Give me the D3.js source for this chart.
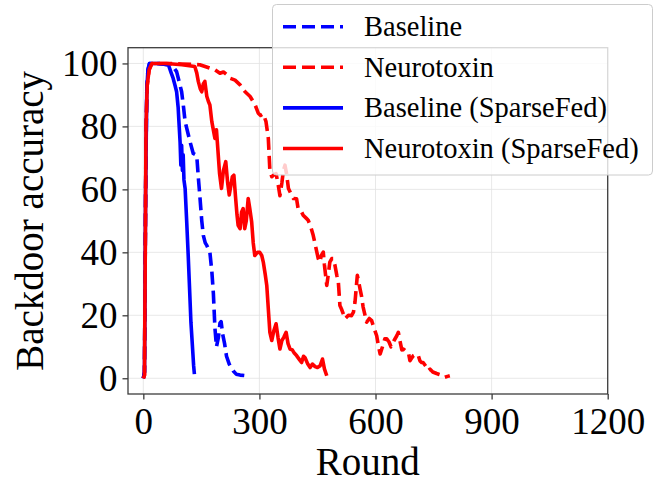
<!DOCTYPE html>
<meta charset="utf-8" />
<style>
  body { margin: 0; background: #fff; }
  text { font-family: "Liberation Serif", "Times New Roman", serif; fill: #000; }
  .grid line { stroke: #e2e2e2; stroke-width: 0.8px; }
  .tick text { font-size: 37px; }
  .frame { fill: none; stroke: #3c3c3c; stroke-width: 1.3px; }
  .curve { fill: none; stroke-width: 3.6px; stroke-linejoin: round; }
</style>
<body>
<script src="https://d3js.org/d3.v7.min.js"></script>
<script>
  // rounds and backdoor accuracy for each run
  var baselineR = [0, 3, 6, 9, 12, 16, 30, 50, 70, 80, 86, 93, 99, 104, 108, 115, 121, 129, 138, 142, 146, 151, 155, 160, 164, 172, 177, 181, 185, 189, 194, 198, 201, 205, 210, 215, 222, 232, 240, 250, 265, 276];
  var baselineV = [0, 2, 60, 92, 98, 100, 100, 99.8, 99.5, 98.5, 97.4, 94, 91, 86, 81.5, 78, 75, 71.4, 70.8, 64, 58, 50, 45.4, 43, 42.2, 40, 34, 27, 16, 10, 13, 17.5, 18, 14, 11, 7, 4.5, 2.4, 1.3, 1, 0.8, 0.5];

  var neuroR = [0, 3, 5, 7, 10, 15, 22, 60, 100, 146, 172, 185, 198, 207, 215, 224, 237, 250, 263, 276, 289, 297, 303, 310, 317, 323, 327, 332, 336, 343, 348, 353, 358, 362, 366, 370, 375, 383, 388, 396, 400, 409, 413, 422, 426, 433, 439, 445, 452, 456, 460, 465, 468, 474, 478, 482, 487, 491, 495, 500, 504, 508, 512, 517, 521, 530, 538, 543, 547, 553, 556, 560, 564, 568, 573, 577, 584, 590, 596, 603, 608, 612, 618, 624, 629, 635, 640, 648, 655, 659, 663, 668, 672, 679, 685, 689, 694, 698, 706, 711, 715, 719, 723, 730, 736, 741, 748, 758, 765, 770, 779, 786, 792];
  var neuroV = [0, 1, 40, 80, 93, 98, 100, 100, 99.8, 99.6, 98.5, 98, 96.9, 97.3, 96.5, 95.3, 94.7, 93.2, 91, 89.5, 86.8, 84.2, 83.5, 84, 81.5, 76.2, 66, 64, 64.5, 65, 61.9, 58, 62, 66, 67.7, 65, 60.3, 58.2, 57.1, 57, 53.9, 52.8, 51.8, 50.7, 50.2, 48, 45.4, 42, 38, 36.9, 39, 40.1, 36, 29.5, 33, 36.9, 38, 38, 36, 32.7, 30.5, 23.1, 22, 20.4, 18.9, 20, 19.9, 21, 24.2, 32.7, 31, 28.4, 26, 22.6, 20, 17.8, 19, 18.3, 16, 13.5, 10, 7.7, 10, 12.5, 12.5, 11.5, 10, 12, 13.5, 14.6, 12, 9, 9.3, 8.5, 8.2, 5.6, 6.5, 7.2, 7.7, 7, 5.5, 5, 5, 3.8, 2.4, 2.9, 2, 1.5, 1.2, 1, 0.3, 0.6, 0.8];

  var baseSparseR = [0, 3, 6, 9, 12, 16, 40, 65, 72, 77, 82, 86, 90, 92, 95, 97, 99, 101, 103, 105, 108, 112, 116, 119, 123, 127, 130, 132];
  var baseSparseV = [0, 2, 60, 92, 98, 100, 100, 99.5, 97, 95.3, 93, 91, 86, 81.5, 75, 67.7, 74, 66, 71, 63, 60.3, 50, 39, 30, 17.8, 10, 4, 1.3];

  var neuroSparseR = [0, 3, 5, 7, 10, 15, 22, 60, 100, 133, 138, 142, 147, 151, 155, 159, 164, 168, 172, 177, 185, 189, 193, 197, 202, 207, 213, 218, 222, 226, 230, 234, 238, 242, 245, 250, 254, 258, 262, 266, 271, 275, 280, 284, 288, 295, 301, 306, 310, 315, 319, 323, 327, 332, 337, 343, 348, 353, 358, 363, 369, 374, 379, 385, 390, 396, 403, 409, 414, 418, 425, 431, 437, 444, 450, 457, 463, 468, 474];
  var neuroSparseV = [0, 1, 40, 80, 93, 98, 100, 100, 99.6, 99, 97, 94.3, 92, 91, 93.5, 94.3, 89.6, 88, 86.8, 81.5, 76.2, 78.9, 72, 65, 60.3, 66, 68.8, 62, 58.2, 61, 64, 64.5, 58, 52, 48.6, 47.5, 52.8, 53.9, 47.5, 50, 57.1, 54, 49.6, 43, 39, 40, 40, 39, 36.9, 33, 29.5, 22, 14.6, 12, 15, 17.3, 13, 9.3, 12, 13, 14.6, 11, 9.3, 9, 8, 7.2, 6, 5, 7, 6.5, 4.5, 3.4, 4.5, 3.7, 3.4, 4, 6.1, 3, 0.8];

  var xTicks = [0, 300, 600, 900, 1200];
  var yTicks = [0, 20, 40, 60, 80, 100];

  var series = [
    { name: 'Baseline', r: baselineR, v: baselineV, color: '#0000ff', dash: '13,6' },
    { name: 'Neurotoxin', r: neuroR, v: neuroV, color: '#ff0000', dash: '13,6' },
    { name: 'Baseline (SparseFed)', r: baseSparseR, v: baseSparseV, color: '#0000ff', dash: null },
    { name: 'Neurotoxin (SparseFed)', r: neuroSparseR, v: neuroSparseV, color: '#ff0000', dash: null }
  ];

  var W = 664, H = 498;
  var margin = { top: 47.7, right: 56.3, bottom: 104, left: 128 },
    width = W - margin.left - margin.right,
    height = H - margin.top - margin.bottom;

  var svg = d3.select('body').append('svg')
    .attr('width', W)
    .attr('height', H);
  var g = svg.append('g')
    .attr('transform', 'translate(' + margin.left + ',' + margin.top + ')');

  // x starts at -5% of the data span, like matplotlib's auto margin
  var x = d3.scaleLinear().domain([-39.6, 1200]).range([0, width]);
  var y = d3.scaleLinear().domain([-5, 105]).range([height, 0]);

  // grid
  var grid = g.append('g').attr('class', 'grid');
  grid.selectAll('.gx').data(xTicks).enter().append('line')
    .attr('x1', d => x(d)).attr('x2', d => x(d))
    .attr('y1', 0).attr('y2', height);
  grid.selectAll('.gy').data(yTicks).enter().append('line')
    .attr('x1', 0).attr('x2', width)
    .attr('y1', d => y(d)).attr('y2', d => y(d));

  // axes
  var xAxis = g.append('g')
    .attr('transform', 'translate(0,' + height + ')')
    .call(d3.axisBottom(x).tickValues(xTicks).tickFormat(d3.format('d')).tickSize(5.5).tickPadding(8));
  var yAxis = g.append('g')
    .call(d3.axisLeft(y).tickValues(yTicks).tickFormat(d3.format('d')).tickSize(5.5).tickPadding(5));
  [xAxis, yAxis].forEach(function (a) {
    a.select('.domain').remove();
    a.selectAll('.tick line').attr('stroke', '#3c3c3c').attr('stroke-width', 1.3);
    a.selectAll('.tick text').attr('fill', '#000');
  });
  xAxis.selectAll('.tick text').attr('dy', '0.71em');

  // curves
  var line = d3.line()
    .x(d => x(d[0]))
    .y(d => y(d[1]));

  g.selectAll('.curve').data(series).enter().append('path')
    .attr('class', 'curve')
    .attr('stroke', d => d.color)
    .attr('stroke-dasharray', d => d.dash)
    .attr('d', d => line(d3.zip(d.r, d.v)));

  g.append('rect').attr('class', 'frame')
    .attr('width', width).attr('height', height);

  // axis labels
  svg.append('text')
    .attr('x', margin.left + width / 2)
    .attr('y', 475)
    .attr('text-anchor', 'middle')
    .style('font-size', '39px')
    .text('Round');
  svg.append('text')
    .attr('transform', 'translate(43,' + (margin.top + height / 2) + ') rotate(-90)')
    .attr('text-anchor', 'middle')
    .style('font-size', '39px')
    .text('Backdoor accuracy');

  // legend, drawn over the lines with a translucent box
  var legend = svg.append('g');
  legend.append('rect')
    .attr('x', 272.5).attr('y', 4.5)
    .attr('width', 380).attr('height', 170.5)
    .attr('rx', 4).attr('ry', 4)
    .attr('fill', '#fff').attr('fill-opacity', 0.8)
    .attr('stroke', '#cccccc').attr('stroke-width', 1);

  var item = legend.selectAll('.item').data(series).enter().append('g')
    .attr('transform', (d, i) => 'translate(0,' + (26.7 + i * 40.6) + ')');
  item.append('line')
    .attr('x1', 283).attr('x2', 343)
    .attr('stroke', d => d.color)
    .attr('stroke-width', 3.6)
    .attr('stroke-dasharray', d => d.dash);
  item.append('text')
    .attr('x', 364).attr('y', 9.5)
    .style('font-size', '28.5px')
    .text(d => d.name);
</script>
</body>
